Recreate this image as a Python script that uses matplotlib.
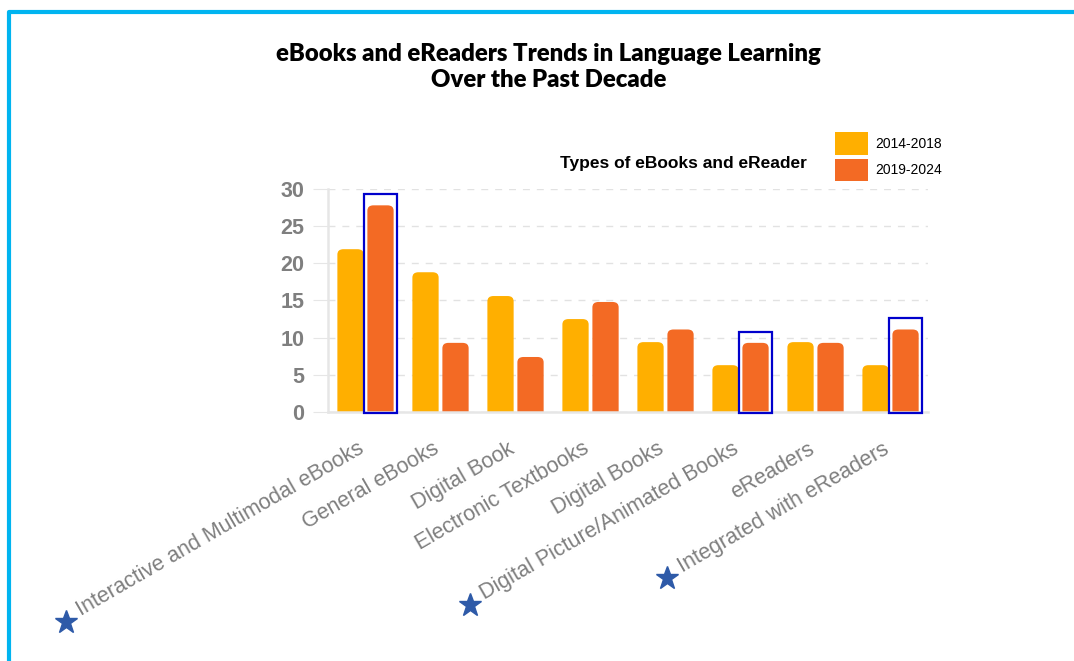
import matplotlib
matplotlib.use('Agg')
import matplotlib.pyplot as plt
from matplotlib.patches import FancyBboxPatch, Rectangle
from matplotlib.lines import Line2D
from matplotlib.transforms import IdentityTransform, ScaledTranslation
import numpy as np

categories = ['Interactive and Multimodal eBooks', 'General eBooks', 'Digital Book',
              'Electronic Textbooks', 'Digital Books', 'Digital Picture/Animated Books',
              'eReaders', 'Integrated with eReaders']
period_1 = [21.9, 18.8, 15.6, 12.5, 9.4, 6.3, 9.4, 6.3]     # 2014-2018 (%)
period_2 = [27.8, 9.3, 7.4, 14.8, 11.1, 9.3, 9.3, 11.1]     # 2019-2024 (%)
series_names = ['2014-2018', '2019-2024']
starred = [0, 5, 7]

yellow = '#FFAF00'
orange = '#F36A24'

fig = plt.figure(figsize=(10.74, 6.61), dpi=100)
ax = fig.add_axes([0.3054, 0.3767, 0.5587, 0.3374])

x = np.arange(len(categories))
w = 0.35
b1 = ax.bar(x - 0.2, period_1, w, color=yellow, label=series_names[0])
b2 = ax.bar(x + 0.2, period_2, w, color=orange, label=series_names[1])

# swap the plain bars for ones with rounded tops
for bars in (b1, b2):
    for p in bars:
        p.set_visible(False)
        r = FancyBboxPatch((p.get_x(), -3), p.get_width(), p.get_height() + 3,
                           boxstyle='round,pad=0,rounding_size=0.08',
                           mutation_aspect=9.0, facecolor=p.get_facecolor(),
                           edgecolor='none', zorder=2)
        ax.add_patch(r)

# outline the highlighted recent bars
for i in starred:
    ax.add_patch(Rectangle((x[i] + 0.2 - 0.215, -0.1), 0.43, period_2[i] + 1.6,
                           fill=False, edgecolor='#0000CC', linewidth=1.6,
                           zorder=3, clip_on=False))

ax.set_xlim(-0.5, 7.5)
ax.set_ylim(0, 30)
ax.yaxis.grid(True, color='#E2E2E2', linestyle=(0, (5, 5)), linewidth=1)
ax.set_axisbelow(True)
for s in ['top', 'right']:
    ax.spines[s].set_visible(False)
ax.spines['left'].set_color('#E6E6E6')
ax.spines['left'].set_linewidth(1.8)
ax.spines['bottom'].set_color('#E6E6E6')
ax.spines['bottom'].set_linewidth(1.8)
ax.tick_params(axis='y', length=11, color='#E6E6E6', pad=6)
ax.set_yticks(range(0, 31, 5))
ax.set_yticklabels([str(v) for v in range(0, 31, 5)], fontsize=15.5, fontweight='bold',
                   color='#7F7F7F', family='Liberation Sans')
ax.set_xticks(x)
ax.set_xticklabels(categories, rotation=30, ha='right', rotation_mode='anchor',
                   fontsize=15.5, color='#7F7F7F', family='Liberation Sans')
ax.tick_params(axis='x', length=0, pad=19)
# nudge the slanted labels a little left so they end under their group
shift = ScaledTranslation(-6 / 72, 0, fig.dpi_scale_trans)
for t in ax.get_xticklabels():
    t.set_transform(t.get_transform() + shift)

fig.text(0.511, 0.899, 'eBooks and eReaders Trends in Language Learning\nOver the Past Decade',
         ha='center', va='center', fontsize=17.2, fontweight='heavy', family='Lato',
         linespacing=1.25)
fig.text(0.636, 0.753, 'Types of eBooks and eReader', ha='center', va='center',
         fontsize=12.5, fontweight='bold', family='Liberation Sans')

leg = fig.legend(handles=[b1, b2], labels=series_names, loc='upper left',
                 bbox_to_anchor=(0.7775, 0.8), frameon=False, handlelength=2.4,
                 handleheight=2.1, labelspacing=0.3, handletextpad=0.5,
                 borderpad=0, borderaxespad=0,
                 prop={'family': 'Liberation Sans', 'size': 10})
for h in leg.legend_handles:
    h.set_visible(True)

# stars in front of the starred category labels
fig.canvas.draw()
for i in starred:
    bb = ax.get_xticklabels()[i].get_window_extent()
    fig.add_artist(Line2D([bb.x0 - 7], [bb.y0 - 1], marker='*', markersize=17,
                          color='#2E5AA8', markeredgecolor='#2E5AA8',
                          transform=IdentityTransform()))

# cyan frame
fig.add_artist(Line2D([9 / 1074, 9 / 1074, 1.0], [0.0, 1 - 12 / 661, 1 - 12 / 661],
                      color='#00B4F0', linewidth=3, solid_joinstyle='round',
                      transform=fig.transFigure))

fig.savefig('out.png', dpi=100)
